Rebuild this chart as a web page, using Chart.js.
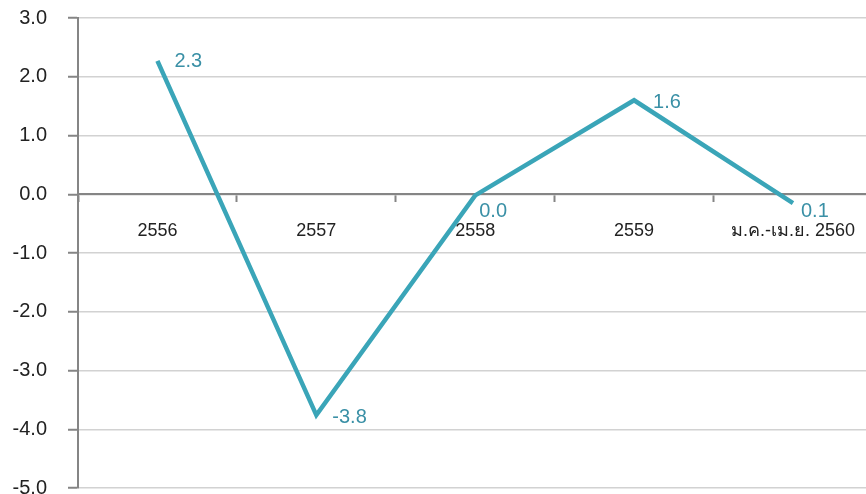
<!DOCTYPE html>
<html>
<head>
<meta charset="utf-8">
<script src="https://cdn.jsdelivr.net/npm/chart.js@4.4.1/dist/chart.umd.min.js"></script>
<style>
  html, body { margin: 0; padding: 0; background: #fff; overflow: hidden; }
  #wrap { width: 874px; height: 494px; position: relative; }
</style>
</head>
<body>
<div id="wrap"><canvas id="growthChart"></canvas></div>
<script>
// categories (Thai Buddhist-era years)
const periods = ["2556", "2557", "2558", "2559", "ม.ค.-เม.ย. 2560"];
// values
const growth = [2.27, -3.76, -0.02, 1.6, -0.15];
// labels as printed next to each point
const pointLabels = ["2.3", "-3.8", "0.0", "1.6", "0.1"];
// y axis ticks
const yMin = -5;
const yMax = 3;
const yStep = 1;

const LINE_COLOR = '#3AA5B8';
const LABEL_COLOR = '#3A90A6';
const AXIS_COLOR = '#858585';
const FONT = "'Liberation Sans', 'Noto Sans', 'DejaVu Sans', sans-serif";

// draws the value text beside each point
const pointLabelPlugin = {
    id: 'pointLabels',
    afterDatasetsDraw(chart, args, opts) {
        const ctx = chart.ctx;
        const meta = chart.getDatasetMeta(0);
        ctx.save();
        ctx.font = opts.font;
        ctx.fillStyle = opts.color;
        ctx.textAlign = 'left';
        ctx.textBaseline = 'middle';
        meta.data.forEach((pt, i) => {
            const off = opts.offsets[i] || [16, 1];
            ctx.fillText(opts.texts[i], pt.x + off[0], pt.y + off[1]);
        });
        ctx.restore();
    }
};

const ctx = document.getElementById('growthChart').getContext('2d');
const myChart = new Chart(ctx, {
    type: 'line',
    data: {
        labels: periods,
        datasets: [{
            data: growth,
            borderColor: LINE_COLOR,
            borderWidth: 4.5,
            pointRadius: 0,
            tension: 0,
            fill: false,
            clip: false
        }]
    },
    options: {
        responsive: true,
        maintainAspectRatio: false,
        animation: false,
        layout: { padding: { top: 18, right: 0, bottom: 6, left: 0 } },
        scales: {
            x: {
                type: 'category',
                position: { y: 0 },
                offset: true,
                border: { color: AXIS_COLOR, width: 2 },
                grid: {
                    offset: true,
                    drawOnChartArea: false,
                    drawTicks: true,
                    tickLength: 7,
                    tickWidth: 2,
                    tickColor: AXIS_COLOR
                },
                ticks: {
                    color: '#222',
                    font: { family: FONT, size: 18 },
                    padding: 19,
                    maxRotation: 0,
                    autoSkip: false
                }
            },
            y: {
                min: yMin,
                max: yMax,
                border: { color: AXIS_COLOR, width: 2 },
                grid: {
                    color: '#d2d2d2',
                    lineWidth: 1.5,
                    tickColor: AXIS_COLOR,
                    tickWidth: 2,
                    tickLength: 10
                },
                ticks: {
                    stepSize: yStep,
                    color: '#222',
                    font: { family: FONT, size: 20 },
                    padding: 21,
                    callback: v => v.toFixed(1)
                },
                afterFit(scale) {
                    scale.width = 78;
                    scale.paddingTop = 0;
                    scale.paddingBottom = 0;
                }
            }
        },
        plugins: {
            legend: { display: false },
            tooltip: { enabled: false },
            pointLabels: {
                texts: pointLabels,
                color: LABEL_COLOR,
                font: "20px " + FONT,
                offsets: [[17, 1], [16, 2], [4, 16], [19, 2], [8, 8]]
            }
        }
    },
    plugins: [pointLabelPlugin]
});
</script>
</body>
</html>
